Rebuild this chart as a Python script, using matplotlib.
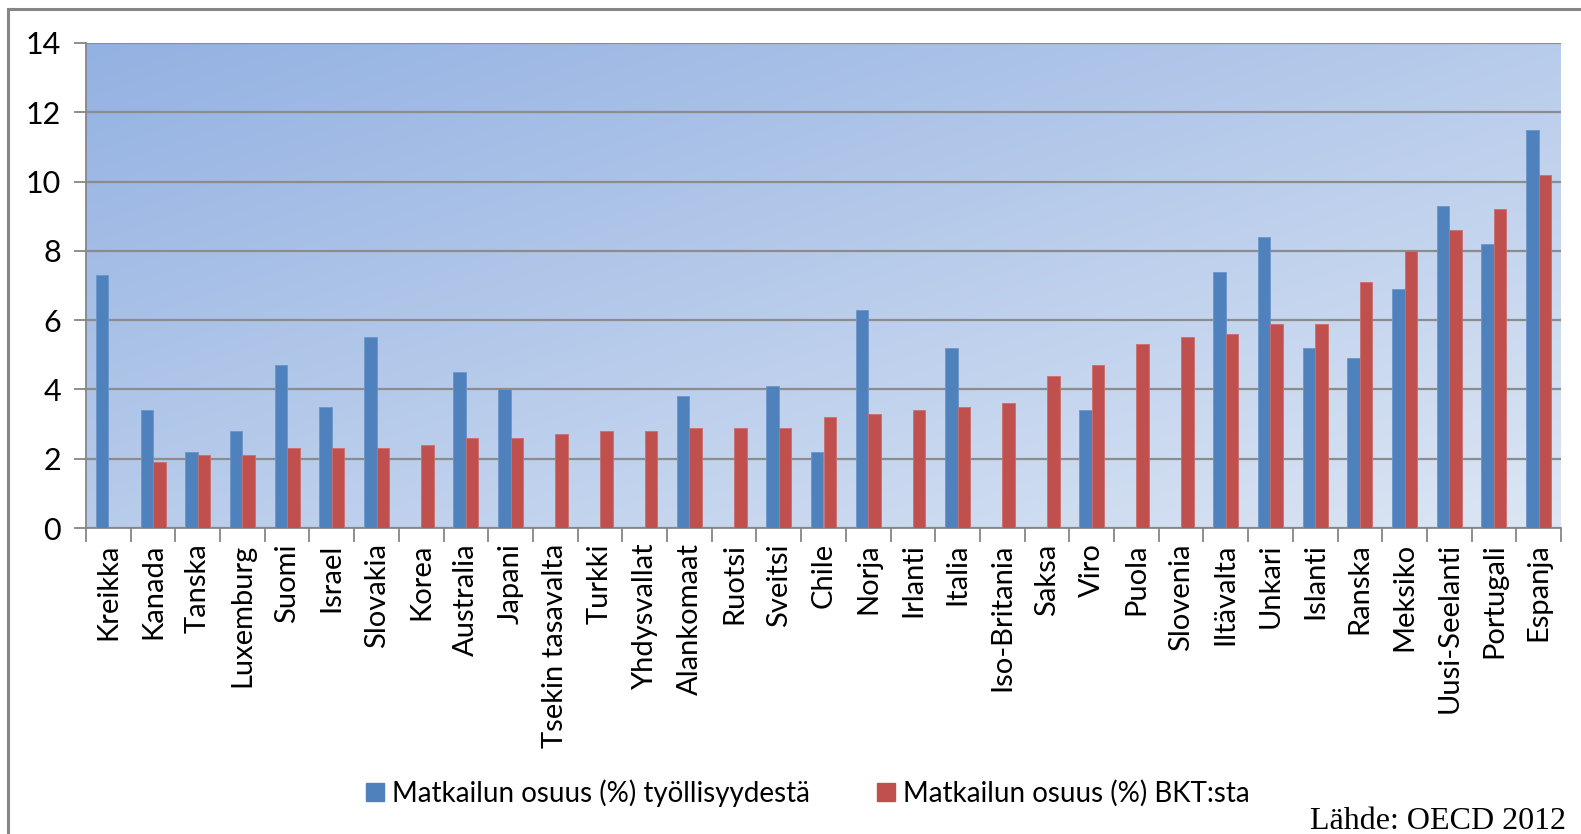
import numpy as np
import matplotlib
matplotlib.use("Agg")
import matplotlib.pyplot as plt
from matplotlib.patches import Patch

plt.rcParams['font.family'] = ['Lato', 'DejaVu Sans']

maat = ["Kreikka", "Kanada", "Tanska", "Luxemburg", "Suomi", "Israel", "Slovakia",
        "Korea", "Australia", "Japani", "Tsekin tasavalta", "Turkki", "Yhdysvallat",
        "Alankomaat", "Ruotsi", "Sveitsi", "Chile", "Norja", "Irlanti", "Italia",
        "Iso-Britania", "Saksa", "Viro", "Puola", "Slovenia", "Iltävalta", "Unkari",
        "Islanti", "Ranska", "Meksiko", "Uusi-Seelanti", "Portugali", "Espanja"]

nan = np.nan
tyollisyys = [7.3, 3.4, 2.2, 2.8, 4.7, 3.5, 5.5, nan, 4.5, 4.0, nan, nan, nan,
              3.8, nan, 4.1, 2.2, 6.3, nan, 5.2, nan, nan, 3.4, nan, nan, 7.4, 8.4,
              5.2, 4.9, 6.9, 9.3, 8.2, 11.5]
bkt = [nan, 1.9, 2.1, 2.1, 2.3, 2.3, 2.3, 2.4, 2.6, 2.6, 2.7, 2.8, 2.8,
       2.9, 2.9, 2.9, 3.2, 3.3, 3.4, 3.5, 3.6, 4.4, 4.7, 5.3, 5.5, 5.6, 5.9,
       5.9, 7.1, 8.0, 8.6, 9.2, 10.2]

sarja1 = "Matkailun osuus (%) työllisyydestä"
sarja2 = "Matkailun osuus (%) BKT:sta"
lahde = "Lähde: OECD 2012"

sininen = "#4F81BD"
punainen = "#C0504D"
harmaa = "#868686"

fig = plt.figure(figsize=(15.81, 8.34), dpi=100)
fig.patch.set_facecolor("white")

# outer chart frame (only left and top edges visible)
fig.add_artist(plt.Line2D([8 / 1581, 8 / 1581], [0, 1 - 9 / 834], color=harmaa, lw=2.2,
                          transform=fig.transFigure))
fig.add_artist(plt.Line2D([8 / 1581, 1], [1 - 9 / 834, 1 - 9 / 834], color=harmaa, lw=2.2,
                          transform=fig.transFigure))

ax = fig.add_axes([86 / 1581, 1 - 528 / 834, (1561 - 86) / 1581, (528 - 43) / 834])

# diagonal gradient background
ny, nx = 200, 400
u = np.linspace(0, 1, nx)[None, :]
v = np.linspace(0, 1, ny)[:, None]
t = (u + v) / 2
c0 = np.array([0x93, 0xB1, 0xE2]) / 255
c1 = np.array([0xDC, 0xE6, 0xF4]) / 255
grad = c0[None, None, :] * (1 - t[..., None]) + c1[None, None, :] * t[..., None]
ax.imshow(grad, extent=[0, 1, 0, 1], transform=ax.transAxes, aspect="auto",
          origin="upper", zorder=0, interpolation="bilinear")

x = np.arange(len(maat))
w = 0.28
ax.bar(x - w / 2, tyollisyys, w, color=sininen, edgecolor="#6C95C8", lw=0.6, zorder=3)
ax.bar(x + w / 2, bkt, w, color=punainen, edgecolor="#CC6E6B", lw=0.6, zorder=3)

ax.set_xlim(-0.5, len(maat) - 0.5)
ax.set_ylim(0, 14)
ax.set_yticks(range(0, 15, 2))
ax.yaxis.grid(True, color="#8C8C8C", lw=1.6, zorder=1)
ax.set_axisbelow(True)

ax.set_xticks(x)
ax.set_xticklabels(maat, rotation=90, fontsize=21, va="top")
ax.set_xticks(np.arange(-0.5, len(maat), 1), minor=True)
ax.tick_params(axis="x", which="major", length=0, pad=11)
ax.tick_params(axis="x", which="minor", length=10, width=1.3, color=harmaa)
ax.tick_params(axis="y", length=9, width=1.3, color=harmaa, labelsize=22, pad=9)

for s in ["top", "right"]:
    ax.spines[s].set_visible(False)
for s in ["left", "bottom"]:
    ax.spines[s].set_color(harmaa)
    ax.spines[s].set_linewidth(1.3)

kahvat = [Patch(facecolor=sininen, edgecolor=sininen), Patch(facecolor=punainen, edgecolor=punainen)]
fig.legend(kahvat, [sarja1, sarja2], loc="center", bbox_to_anchor=(0.511, 0.049), ncol=2,
           frameon=False, fontsize=20, handlelength=0.65, handleheight=0.65,
           handletextpad=0.3, columnspacing=2.4)

fig.text(1566 / 1581, 1 - 829 / 834, lahde, ha="right", va="baseline",
         fontsize=23, family="Liberation Serif")

fig.savefig("out.png", dpi=100)
